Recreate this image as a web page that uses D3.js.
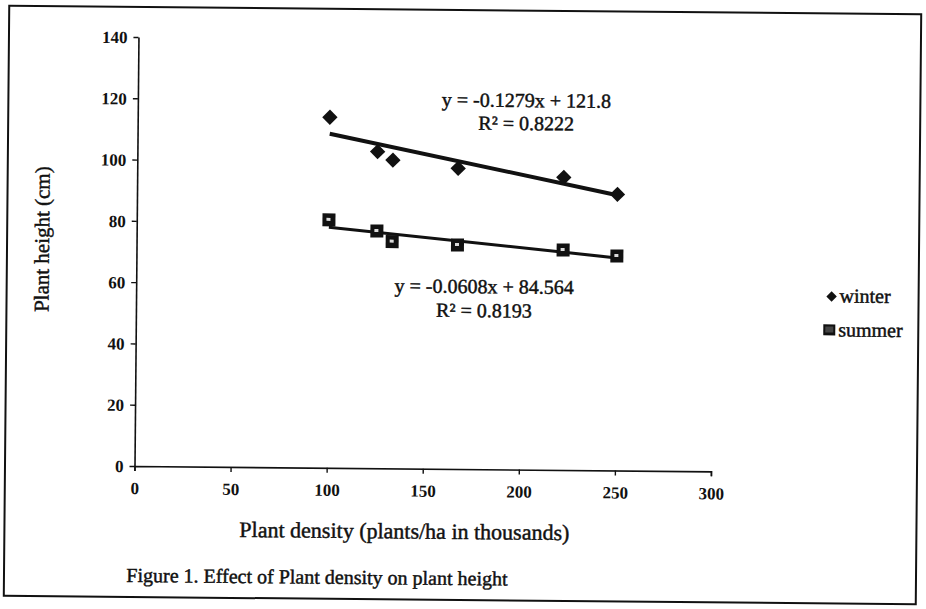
<!DOCTYPE html>
<html>
<head>
<meta charset="utf-8">
<script src="https://cdn.jsdelivr.net/npm/d3@7"></script>
<style>
  body { margin: 0; background: #fff; }
  svg { display: block; }
  text { font-family: "Liberation Serif", "Times New Roman", serif; fill: #111; }
  .heavy { stroke: #111; stroke-width: 0.45px; }
</style>
</head>
<body>
<svg id="chart" width="926" height="609"></svg>
<script>
// Plant density (thousand plants/ha) and measured plant height (cm)
const densities = [100, 125, 133, 167, 222, 250];
const winterHeight = [114.4, 103.3, 100.6, 98.1, 95.5, 90.1];
const summerHeight = [80.9, 77.4, 74.0, 73.1, 71.8, 70.0];
const seriesNames = ["winter", "summer"];

// Linear trend lines (slope, intercept, R²) as reported on the figure
const trendSlopes = [-0.1279, -0.0608];
const trendIntercepts = [121.8, 84.564];
const trendSlopeText = ["-0.1279", "-0.0608"];
const trendInterceptText = ["121.8", "84.564"];
const trendR2Text = ["0.8222", "0.8193"];

const xTicks = [0, 50, 100, 150, 200, 250, 300];
const yTicks = [0, 20, 40, 60, 80, 100, 120, 140];

const svg = d3.select("#chart");
// the printed page sits slightly skewed; the whole figure is turned a touch
const root = svg.append("g").attr("transform", "rotate(0.53, 134.5, 466)");

// page frame
root.append("rect")
  .attr("x", 5).attr("y", 7).attr("width", 912).attr("height", 590)
  .attr("fill", "none").attr("stroke", "#111").attr("stroke-width", 2);

const x = d3.scaleLinear().domain([0, 300]).range([134.5, 711]);
const y = d3.scaleLinear().domain([0, 140]).range([466, 37]);

// axes
const xAxis = root.append("g")
  .attr("transform", `translate(0,${y(0)})`)
  .call(d3.axisBottom(x).tickValues(xTicks).tickSize(5).tickSizeOuter(5).tickFormat(d3.format("d")));
const yAxis = root.append("g")
  .attr("transform", `translate(${x(0)},0)`)
  .call(d3.axisLeft(y).tickValues(yTicks).tickSize(5).tickSizeOuter(0).tickFormat(d3.format("d")));

[xAxis, yAxis].forEach(a => {
  a.select(".domain").attr("stroke", "#111").attr("stroke-width", 1.6);
  a.selectAll(".tick line").attr("stroke", "#111").attr("stroke-width", 1.4);
  a.selectAll(".tick text")
    .attr("font-family", "Liberation Serif, serif")
    .attr("font-size", 17).attr("font-weight", "bold").attr("fill", "#111");
});
xAxis.selectAll(".tick text").attr("y", 28).attr("dy", null);
yAxis.selectAll(".tick text").attr("x", -11).attr("dy", "0.34em");

// trend lines over the measured density range
const xMin = d3.min(densities), xMax = d3.max(densities);
const line = d3.line().x(d => x(d[0])).y(d => y(d[1]));
trendSlopes.forEach((m, i) => {
  const b = trendIntercepts[i];
  root.append("path")
    .datum([[xMin, m * xMin + b], [xMax, m * xMax + b]])
    .attr("d", line)
    .attr("fill", "none")
    .attr("stroke", "#111")
    .attr("stroke-width", i === 0 ? 4 : 3);
});

// winter: diamonds
const diamond = d3.symbol().type(d3.symbolDiamond2).size(150);
root.append("g").selectAll("path")
  .data(densities.map((d, i) => [d, winterHeight[i]]))
  .join("path")
  .attr("transform", d => `translate(${x(d[0])},${y(d[1])})`)
  .attr("d", diamond)
  .attr("fill", "#111");

// summer: dark squares with a small pale core
const sq = root.append("g").selectAll("g")
  .data(densities.map((d, i) => [d, summerHeight[i]]))
  .join("g")
  .attr("transform", d => `translate(${x(d[0])},${y(d[1])})`);
sq.append("rect").attr("x", -6.5).attr("y", -6.5).attr("width", 13).attr("height", 13).attr("fill", "#111");
sq.append("rect").attr("x", -2.5).attr("y", -2).attr("width", 4).attr("height", 3).attr("fill", "#fff").attr("opacity", 0.85);

// equation labels
const eqPos = [[523, 103.5, 126.5], [482.5, 290, 314]];
eqPos.forEach((p, i) => {
  const t = root.append("g").attr("font-size", 20).attr("text-anchor", "middle");
  t.append("text").attr("x", p[0]).attr("y", p[1]).attr("class", "heavy")
    .text(`y = ${trendSlopeText[i]}x + ${trendInterceptText[i]}`);
  t.append("text").attr("x", p[0]).attr("y", p[2]).attr("class", "heavy")
    .text(`R² = ${trendR2Text[i]}`);
});

// legend
const lg = root.append("g");
lg.append("path").attr("transform", "translate(830,290)").attr("d", d3.symbol().type(d3.symbolDiamond2).size(70)).attr("fill", "#111");
lg.append("text").attr("x", 838).attr("y", 296).attr("font-size", 20).attr("class", "heavy").text(seriesNames[0]);
lg.append("rect").attr("x", 822).attr("y", 318).attr("width", 12).attr("height", 11).attr("fill", "#111");
lg.append("rect").attr("x", 824).attr("y", 320).attr("width", 8).attr("height", 6).attr("fill", "#444");
lg.append("text").attr("x", 837).attr("y", 330).attr("font-size", 20).attr("class", "heavy").text(seriesNames[1]);

// axis titles and caption
root.append("text")
  .attr("transform", "translate(47,240) rotate(-90)")
  .attr("text-anchor", "middle").attr("font-size", 21).attr("class", "heavy")
  .text("Plant height (cm)");
root.append("text")
  .attr("x", 405).attr("y", 536).attr("text-anchor", "middle").attr("font-size", 22).attr("class", "heavy")
  .text("Plant density (plants/ha in thousands)");
root.append("text")
  .attr("x", 318).attr("y", 582).attr("text-anchor", "middle").attr("font-size", 20).attr("class", "heavy")
  .text("Figure 1. Effect of Plant density on plant height");
</script>
</body>
</html>
